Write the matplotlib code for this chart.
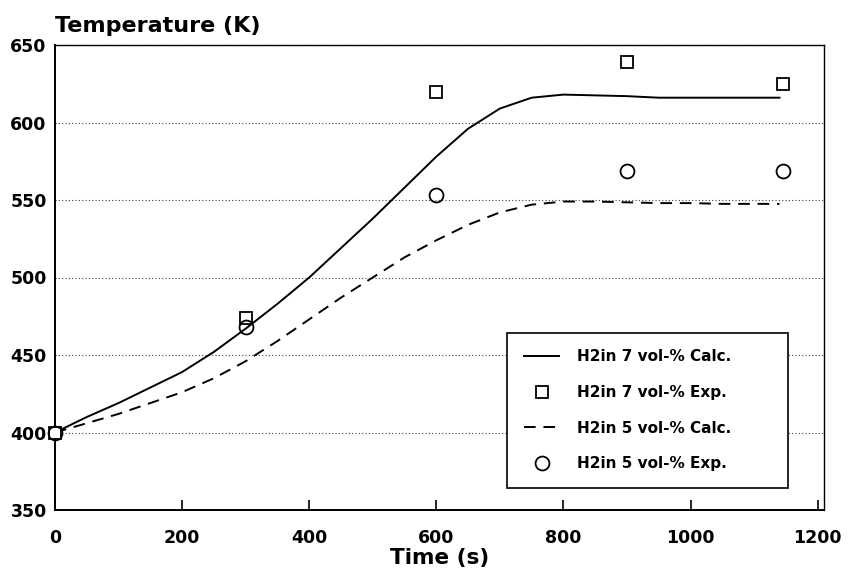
import matplotlib
matplotlib.use("Agg")
import matplotlib.pyplot as plt

plt.rcParams['font.family'] = ['DejaVu Sans']

# Calculated curves
t_calc = [0, 50, 100, 150, 200, 250, 300, 350, 400, 450, 500, 550, 600, 650,
          700, 750, 800, 850, 900, 950, 1000, 1050, 1100, 1140]
T7_calc = [400, 410, 419, 429, 439, 452, 467, 483, 500, 519, 538, 558, 578, 596,
           609, 616, 618, 617.5, 617, 616, 616, 616, 616, 616]
T5_calc = [400, 406, 412, 419, 426, 435, 446, 459, 473, 487, 500, 513, 524, 534,
           542, 547, 549, 549, 548.5, 548, 548, 547.5, 547.5, 547.5]

# Experimental points
t_exp = [0, 300, 600, 900, 1145]
T7_exp = [400, 474, 620, 639, 625]
T5_exp = [400, 468, 553, 569, 569]

labels = ['H2in 7 vol-% Calc.', 'H2in 7 vol-% Exp.',
          'H2in 5 vol-% Calc.', 'H2in 5 vol-% Exp.']
xticks = [0, 200, 400, 600, 800, 1000, 1200]
yticks = [350, 400, 450, 500, 550, 600, 650]

W, H = 852, 581
fig = plt.figure(figsize=(W / 100, H / 100), dpi=100)
ax = fig.add_axes([55 / W, 1 - 510 / H, (824 - 55) / W, (510 - 45) / H])

ax.set_xlim(0, 1210)
ax.set_ylim(350, 650)

for y in yticks[1:]:
    ax.axhline(y, color='#444444', lw=0.8, linestyle=(0, (1, 2)), zorder=1)

l1, = ax.plot(t_calc, T7_calc, color='black', lw=1.4, zorder=3)
m1, = ax.plot(t_exp, T7_exp, linestyle='none', marker='s', ms=8.5, mfc='white',
              mec='black', mew=1.3, clip_on=False, zorder=4)
l2, = ax.plot(t_calc, T5_calc, color='black', lw=1.4, linestyle=(0, (6, 4)), zorder=3)
m2, = ax.plot(t_exp, T5_exp, linestyle='none', marker='o', ms=10, mfc='none',
              mec='black', mew=1.3, clip_on=False, zorder=4)

ax.set_xticks(xticks)
ax.set_yticks(yticks)
ax.tick_params(axis='both', direction='in', length=7, width=1.2, labelsize=12.5)
ax.tick_params(axis='x', pad=14)
ax.tick_params(axis='y', pad=6, left=False)
for lab in ax.get_xticklabels() + ax.get_yticklabels():
    lab.set_fontweight('bold')

for side in ['top', 'right']:
    ax.spines[side].set_linewidth(1.0)
for side in ['bottom', 'left']:
    ax.spines[side].set_linewidth(1.4)

leg = ax.legend([l1, m1, l2, m2], labels, loc='lower left',
                bbox_to_anchor=(0.588, 0.047, 0.365, 0.33), mode='expand',
                prop={'weight': 'bold', 'size': 11}, frameon=True, fancybox=False,
                edgecolor='black', framealpha=1, labelspacing=1.35, borderpad=1.1,
                handlelength=2.3, handletextpad=1.2, borderaxespad=0)
leg.get_frame().set_linewidth(1.2)

fig.text(55 / W, 1 - 32 / H, 'Temperature (K)', fontsize=16, fontweight='bold',
         ha='left', va='baseline')
fig.text((55 + 824) / 2 / W, 1 - 564 / H, 'Time (s)', fontsize=15.5, fontweight='bold',
         ha='center', va='baseline')

fig.savefig('out.png', dpi=100)
